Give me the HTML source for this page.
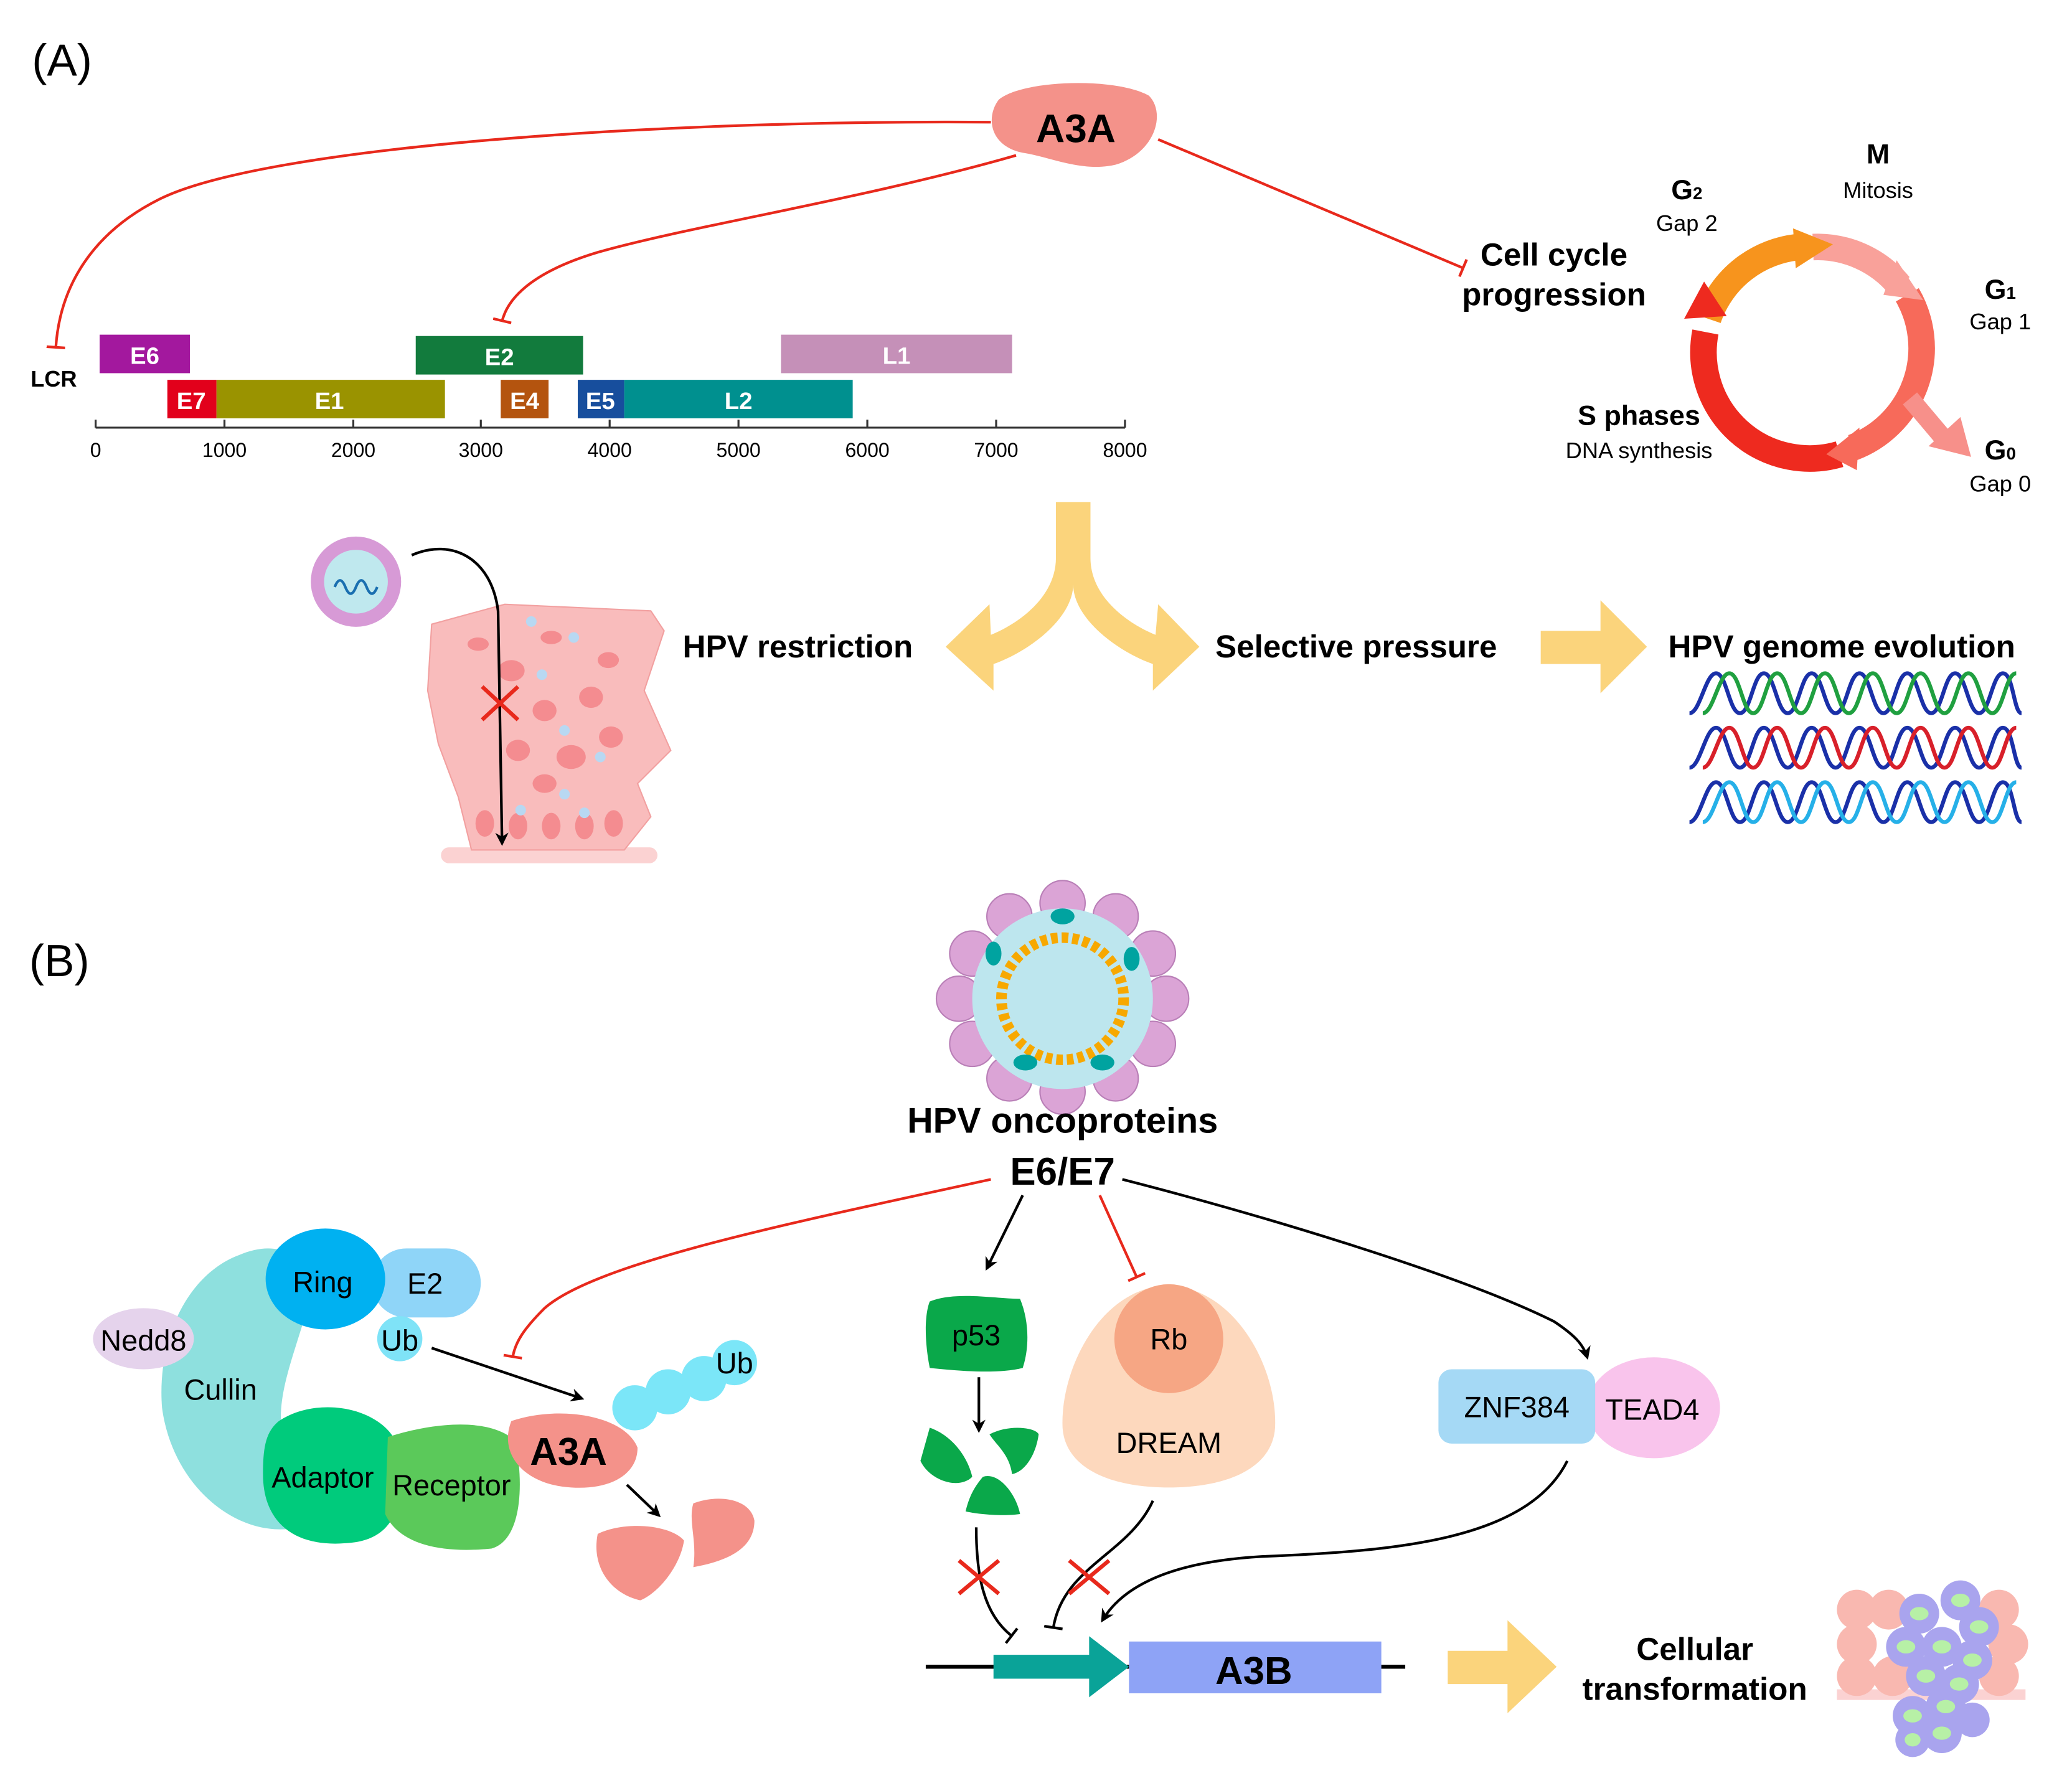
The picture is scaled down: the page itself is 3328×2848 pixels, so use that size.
<!DOCTYPE html>
<html><head><meta charset="utf-8"><style>
html,body{margin:0;padding:0;background:#fff;}
svg{display:block;}
text{font-family:"Liberation Sans",sans-serif;}
</style></head><body>
<svg width="3328" height="2848" viewBox="0 0 1560 1335" xmlns="http://www.w3.org/2000/svg">
<defs>
<marker id="ab" markerWidth="10" markerHeight="10" refX="8" refY="5" orient="auto" markerUnits="userSpaceOnUse"><path d="M0,0 L10,5 L0,10 L3,5 Z" fill="#000"/></marker>
<marker id="tr" markerWidth="4" markerHeight="14" refX="2" refY="7" orient="auto" markerUnits="userSpaceOnUse"><rect x="0.5" y="0" width="2" height="14" fill="#e8291c"/></marker>
<marker id="tb" markerWidth="4" markerHeight="14" refX="2" refY="7" orient="auto" markerUnits="userSpaceOnUse"><rect x="0.5" y="0" width="2" height="14" fill="#000"/></marker>
</defs>

<!-- (A) -->
<text x="24" y="57" font-size="34">(A)</text>
<path d="M752,75 C770,60 840,58 865,72 C878,85 870,115 840,124 C815,130 790,118 770,115 C745,110 742,88 752,75 Z" fill="#f4928a"/>
<text x="810" y="107" font-size="30" font-weight="bold" text-anchor="middle">A3A</text>

<path d="M746,92 C500,90 200,110 120,150 C70,175 45,215 42,262" fill="none" stroke="#e8291c" stroke-width="2" marker-end="url(#tr)"/>
<path d="M765,117 C650,150 520,170 450,190 C400,205 382,225 378,242" fill="none" stroke="#e8291c" stroke-width="2" marker-end="url(#tr)"/>
<path d="M872,105 L1102,202" fill="none" stroke="#e8291c" stroke-width="2" marker-end="url(#tr)"/>

<!-- genome -->
<g font-weight="bold" font-size="18" fill="#fff" text-anchor="middle">
<rect x="75" y="252" width="68" height="29" fill="#a3189e"/><text x="109" y="274">E6</text>
<rect x="313" y="253" width="126" height="29" fill="#127b3d"/><text x="376" y="275">E2</text>
<rect x="588" y="252" width="174" height="29" fill="#c590b8"/><text x="675" y="274">L1</text>
<rect x="126" y="286" width="37" height="29" fill="#e2001b"/><text x="144" y="308">E7</text>
<rect x="163" y="286" width="172" height="29" fill="#9a9300"/><text x="248" y="308">E1</text>
<rect x="377" y="286" width="36" height="29" fill="#b4540f"/><text x="395" y="308">E4</text>
<rect x="435" y="286" width="35" height="29" fill="#174e9d"/><text x="452" y="308">E5</text>
<rect x="470" y="286" width="172" height="29" fill="#00908f"/><text x="556" y="308">L2</text>
</g>
<text x="23" y="291" font-size="17" font-weight="bold">LCR</text>
<line x1="72" y1="322" x2="847" y2="322" stroke="#333" stroke-width="1.5"/>
<g stroke="#333" stroke-width="1.5">
<line x1="72" y1="316" x2="72" y2="322"/><line x1="169" y1="316" x2="169" y2="322"/><line x1="266" y1="316" x2="266" y2="322"/><line x1="362" y1="316" x2="362" y2="322"/><line x1="459" y1="316" x2="459" y2="322"/><line x1="556" y1="316" x2="556" y2="322"/><line x1="653" y1="316" x2="653" y2="322"/><line x1="750" y1="316" x2="750" y2="322"/><line x1="847" y1="316" x2="847" y2="322"/>
</g>
<g font-size="15" text-anchor="middle">
<text x="72" y="344">0</text><text x="169" y="344">1000</text><text x="266" y="344">2000</text><text x="362" y="344">3000</text><text x="459" y="344">4000</text><text x="556" y="344">5000</text><text x="653" y="344">6000</text><text x="750" y="344">7000</text><text x="847" y="344">8000</text>
</g>

<!-- cell cycle -->
<text x="1170" y="200" font-size="24" font-weight="bold" text-anchor="middle">Cell cycle</text>
<text x="1170" y="230" font-size="24" font-weight="bold" text-anchor="middle">progression</text>
<g fill="none" stroke-width="20">
<path d="M1286,240 A80,80 0 0 1 1355,186" stroke="#f7941d"/>
<path d="M1365,186 A80,80 0 0 1 1430,215" stroke="#f9a19a"/>
<path d="M1436,222 A80,80 0 0 1 1395,337" stroke="#f76a5a"/>
<path d="M1385,342 A80,80 0 0 1 1284,250" stroke="#ee2a1f"/>
</g>
<polygon points="1350,172 1380,184 1352,202" fill="#f7941d"/>
<polygon points="1428,196 1448,226 1418,222" fill="#f9a19a"/>
<polygon points="1400,322 1375,342 1398,354" fill="#f76a5a"/>
<polygon points="1268,240 1283,212 1300,238" fill="#ee2a1f"/>
<path d="M1438,300 L1465,332" stroke="#f7908a" stroke-width="14"/>
<polygon points="1452,336 1484,344 1476,314" fill="#f7908a"/>
<text x="1414" y="123" font-size="21" font-weight="bold" text-anchor="middle">M</text>
<text x="1414" y="149" font-size="17" text-anchor="middle">Mitosis</text>
<text x="1270" y="150" font-size="21" font-weight="bold" text-anchor="middle">G<tspan font-size="13">2</tspan></text>
<text x="1270" y="174" font-size="17" text-anchor="middle">Gap 2</text>
<text x="1506" y="225" font-size="21" font-weight="bold" text-anchor="middle">G<tspan font-size="13">1</tspan></text>
<text x="1506" y="248" font-size="17" text-anchor="middle">Gap 1</text>
<text x="1506" y="346" font-size="21" font-weight="bold" text-anchor="middle">G<tspan font-size="13">0</tspan></text>
<text x="1506" y="370" font-size="17" text-anchor="middle">Gap 0</text>
<text x="1234" y="320" font-size="21" font-weight="bold" text-anchor="middle">S phases</text>
<text x="1234" y="345" font-size="17" text-anchor="middle">DNA synthesis</text>

<!-- yellow arrows -->
<g fill="#fbd47c">
<path d="M795,378 L821,378 L821,420 C821,450 850,470 870,478 L872,455 L903,487 L868,520 L868,500 C840,490 808,465 808,440 C808,465 776,490 748,500 L748,520 L712,487 L745,455 L746,478 C766,470 795,450 795,420 Z"/>
<path d="M1160,475 L1205,475 L1205,452 L1240,487 L1205,522 L1205,500 L1160,500 Z"/>
<path d="M1090,1243 L1135,1243 L1135,1220 L1172,1255 L1135,1290 L1135,1268 L1090,1268 Z"/>
</g>
<text x="514" y="495" font-size="24" font-weight="bold">HPV restriction</text>
<text x="915" y="495" font-size="24" font-weight="bold">Selective pressure</text>
<text x="1256" y="495" font-size="24" font-weight="bold">HPV genome evolution</text>

<!-- DNA helices -->
<g fill="none" stroke-width="3">
<path d="M1272,537 C1280,537 1284,507 1292,507 C1300,507 1302,537 1310,537 C1318,537 1320,507 1328,507 C1336,507 1338,537 1346,537 C1354,537 1356,507 1364,507 C1372,507 1374,537 1382,537 C1390,537 1392,507 1400,507 C1408,507 1410,537 1418,537 C1426,537 1428,507 1436,507 C1444,507 1446,537 1454,537 C1462,537 1464,507 1472,507 C1480,507 1482,537 1490,537 C1498,537 1500,507 1508,507 C1516,507 1516,537 1522,537" stroke="#1a30a8"/>
<path d="M1282,537 C1290,537 1294,507 1302,507 C1310,507 1312,537 1320,537 C1328,537 1330,507 1338,507 C1346,507 1348,537 1356,537 C1364,537 1366,507 1374,507 C1382,507 1384,537 1392,537 C1400,537 1402,507 1410,507 C1418,507 1420,537 1428,537 C1436,537 1438,507 1446,507 C1454,507 1456,537 1464,537 C1472,537 1474,507 1482,507 C1490,507 1492,537 1500,537 C1508,537 1510,507 1518,507" stroke="#20a040"/>
<path d="M1272,578 C1280,578 1284,548 1292,548 C1300,548 1302,578 1310,578 C1318,578 1320,548 1328,548 C1336,548 1338,578 1346,578 C1354,578 1356,548 1364,548 C1372,548 1374,578 1382,578 C1390,578 1392,548 1400,548 C1408,548 1410,578 1418,578 C1426,578 1428,548 1436,548 C1444,548 1446,578 1454,578 C1462,578 1464,548 1472,548 C1480,548 1482,578 1490,578 C1498,578 1500,548 1508,548 C1516,548 1516,578 1522,578" stroke="#1a30a8"/>
<path d="M1282,578 C1290,578 1294,548 1302,548 C1310,548 1312,578 1320,578 C1328,578 1330,548 1338,548 C1346,548 1348,578 1356,578 C1364,578 1366,548 1374,548 C1382,548 1384,578 1392,578 C1400,578 1402,548 1410,548 C1418,548 1420,578 1428,578 C1436,578 1438,548 1446,548 C1454,548 1456,578 1464,578 C1472,578 1474,548 1482,548 C1490,548 1492,578 1500,578 C1508,578 1510,548 1518,548" stroke="#d8202a"/>
<path d="M1272,619 C1280,619 1284,589 1292,589 C1300,589 1302,619 1310,619 C1318,619 1320,589 1328,589 C1336,589 1338,619 1346,619 C1354,619 1356,589 1364,589 C1372,589 1374,619 1382,619 C1390,619 1392,589 1400,589 C1408,589 1410,619 1418,619 C1426,619 1428,589 1436,589 C1444,589 1446,619 1454,619 C1462,619 1464,589 1472,589 C1480,589 1482,619 1490,619 C1498,619 1500,589 1508,589 C1516,589 1516,619 1522,619" stroke="#1a30a8"/>
<path d="M1282,619 C1290,619 1294,589 1302,589 C1310,589 1312,619 1320,619 C1328,619 1330,589 1338,589 C1346,589 1348,619 1356,619 C1364,619 1366,589 1374,589 C1382,589 1384,619 1392,619 C1400,619 1402,589 1410,589 C1418,589 1420,619 1428,619 C1436,619 1438,589 1446,589 C1454,589 1456,619 1464,619 C1472,619 1474,589 1482,589 C1490,589 1492,619 1500,619 C1508,619 1510,589 1518,589" stroke="#26b0e8"/>
</g>

<!-- tissue -->
<rect x="332" y="638" width="163" height="12" rx="6" fill="#fbd2d2"/>
<path d="M325,470 L380,455 L490,460 L500,475 L485,520 L505,565 L480,590 L490,615 L470,640 L355,640 L345,600 L330,560 L322,520 Z" fill="#f9bcbc" stroke="#f2a0a0"/>
<g fill="#f48c90">
<ellipse cx="385" cy="505" rx="10" ry="8"/><ellipse cx="410" cy="535" rx="9" ry="8"/><ellipse cx="445" cy="525" rx="9" ry="8"/><ellipse cx="430" cy="570" rx="11" ry="9"/><ellipse cx="390" cy="565" rx="9" ry="8"/><ellipse cx="460" cy="555" rx="9" ry="8"/><ellipse cx="410" cy="590" rx="9" ry="7"/><ellipse cx="365" cy="620" rx="7" ry="10"/><ellipse cx="390" cy="622" rx="7" ry="10"/><ellipse cx="415" cy="622" rx="7" ry="10"/><ellipse cx="440" cy="622" rx="7" ry="10"/><ellipse cx="462" cy="620" rx="7" ry="10"/><ellipse cx="458" cy="497" rx="8" ry="6"/><ellipse cx="360" cy="485" rx="8" ry="5"/><ellipse cx="415" cy="480" rx="8" ry="5"/>
</g>
<g fill="#b8d8f2"><circle cx="400" cy="468" r="4"/><circle cx="432" cy="480" r="4"/><circle cx="408" cy="508" r="4"/><circle cx="425" cy="550" r="4"/><circle cx="452" cy="570" r="4"/><circle cx="425" cy="598" r="4"/><circle cx="392" cy="610" r="4"/><circle cx="440" cy="612" r="4"/></g>
<circle cx="268" cy="438" r="34" fill="#d79ad6"/>
<circle cx="268" cy="438" r="24" fill="#bfe8ee"/>
<path d="M252,442 q4,-10 8,0 q4,10 8,0 q4,-10 8,0 q4,10 8,0" fill="none" stroke="#1a6fb0" stroke-width="2"/>
<path d="M310,418 C340,405 370,420 375,460 L378,635" fill="none" stroke="#000" stroke-width="2" marker-end="url(#ab)"/>
<path d="M363,517 L390,542 M390,517 L363,542" stroke="#e8291c" stroke-width="3"/>

<!-- (B) -->
<text x="22" y="735" font-size="34">(B)</text>
<g fill="#dba4d6" stroke="#b97fb7" stroke-width="1">
<circle cx="800" cy="680" r="17"/><circle cx="840" cy="690" r="17"/><circle cx="868" cy="718" r="17"/><circle cx="878" cy="752" r="17"/><circle cx="868" cy="786" r="17"/><circle cx="840" cy="812" r="17"/><circle cx="800" cy="822" r="17"/><circle cx="760" cy="812" r="17"/><circle cx="732" cy="786" r="17"/><circle cx="722" cy="752" r="17"/><circle cx="732" cy="718" r="17"/><circle cx="760" cy="690" r="17"/>
</g>
<circle cx="800" cy="752" r="68" fill="#bde6ee"/>
<circle cx="800" cy="752" r="46" fill="none" stroke="#f7a800" stroke-width="8" stroke-dasharray="5,3"/>
<circle cx="800" cy="752" r="38" fill="#bde6ee"/>
<g fill="#00a3a0"><ellipse cx="800" cy="690" rx="9" ry="6"/><ellipse cx="748" cy="718" rx="6" ry="9"/><ellipse cx="852" cy="722" rx="6" ry="9"/><ellipse cx="772" cy="800" rx="9" ry="6"/><ellipse cx="830" cy="800" rx="9" ry="6"/></g>
<text x="800" y="853" font-size="27" font-weight="bold" text-anchor="middle">HPV oncoproteins</text>
<text x="800" y="892" font-size="29" font-weight="bold" text-anchor="middle">E6/E7</text>

<!-- left complex -->
<path d="M180,945 C215,930 240,950 230,990 C218,1030 205,1060 215,1090 C225,1120 240,1140 225,1150 C180,1160 130,1120 122,1060 C118,1010 140,960 180,945 Z" fill="#8ee0de"/>
<ellipse cx="108" cy="1008" rx="38" ry="23" fill="#e5d3ec"/>
<text x="108" y="1017" font-size="22" text-anchor="middle">Nedd8</text>
<text x="166" y="1054" font-size="22" text-anchor="middle">Cullin</text>
<rect x="280" y="940" width="82" height="52" rx="26" fill="#8fd5f8"/>
<text x="320" y="974" font-size="22" text-anchor="middle">E2</text>
<ellipse cx="245" cy="963" rx="45" ry="38" fill="#00b1f1"/>
<text x="243" y="973" font-size="22" text-anchor="middle">Ring</text>
<circle cx="301" cy="1008" r="17" fill="#7fe3f7"/>
<text x="301" y="1017" font-size="22" text-anchor="middle">Ub</text>
<path d="M210,1070 C240,1050 290,1060 300,1090 C305,1130 300,1160 260,1162 C220,1165 198,1145 198,1110 C198,1090 200,1078 210,1070 Z" fill="#00cb7c"/>
<path d="M292,1082 C330,1070 370,1068 388,1085 C395,1120 392,1160 370,1166 C330,1170 300,1162 290,1140 Z" fill="#5bc95a"/>
<text x="243" y="1120" font-size="22" text-anchor="middle">Adaptor</text>
<text x="340" y="1126" font-size="22" text-anchor="middle">Receptor</text>
<g fill="#7be6f8"><circle cx="478" cy="1060" r="17"/><circle cx="503" cy="1048" r="17"/><circle cx="530" cy="1038" r="17"/><circle cx="553" cy="1026" r="17"/></g>
<text x="553" y="1034" font-size="22" text-anchor="middle">Ub</text>
<path d="M385,1070 C420,1058 470,1065 480,1090 C480,1110 460,1122 430,1120 C395,1118 375,1095 385,1070 Z" fill="#f4928a"/>
<text x="428" y="1103" font-size="29" font-weight="bold" text-anchor="middle">A3A</text>
<path d="M450,1155 C470,1145 505,1148 515,1160 C512,1180 495,1200 482,1205 C460,1200 445,1180 450,1155 Z" fill="#f4928a"/>
<path d="M522,1132 C540,1125 565,1128 568,1145 C568,1165 550,1175 522,1180 C525,1160 518,1145 522,1132 Z" fill="#f4928a"/>
<path d="M325,1015 L438,1053" stroke="#000" stroke-width="2" marker-end="url(#ab)"/>
<path d="M472,1118 L496,1141" stroke="#000" stroke-width="2" marker-end="url(#ab)"/>
<path d="M746,888 C600,920 450,950 410,985 C395,1000 388,1010 386,1022" fill="none" stroke="#e8291c" stroke-width="2" marker-end="url(#tr)"/>

<!-- p53 / Rb -->
<path d="M770,900 L743,955" stroke="#000" stroke-width="2" marker-end="url(#ab)"/>
<path d="M828,900 L856,962" stroke="#e8291c" stroke-width="2" marker-end="url(#tr)"/>
<path d="M700,980 C720,972 750,978 768,978 C775,995 775,1015 770,1030 C750,1035 720,1032 700,1030 C696,1010 696,990 700,980 Z" fill="#0aa84a"/>
<text x="735" y="1013" font-size="22" text-anchor="middle">p53</text>
<path d="M737,1037 L737,1077" stroke="#000" stroke-width="2" marker-end="url(#ab)"/>
<path d="M700,1075 C715,1080 728,1095 732,1112 C722,1122 700,1115 693,1100 Z" fill="#0aa84a"/>
<path d="M745,1080 C760,1072 780,1075 782,1080 C780,1095 772,1108 762,1110 C760,1095 750,1088 745,1080 Z" fill="#0aa84a"/>
<path d="M740,1112 C752,1108 765,1125 768,1140 C755,1142 735,1140 727,1138 C730,1125 735,1118 740,1112 Z" fill="#0aa84a"/>
<path d="M880,968 C930,970 962,1030 960,1075 C958,1105 925,1120 880,1120 C835,1120 802,1105 800,1075 C798,1030 830,968 880,968 Z" fill="#fdd8bd"/>
<circle cx="880" cy="1008" r="41" fill="#f6a684"/>
<text x="880" y="1016" font-size="22" text-anchor="middle">Rb</text>
<text x="880" y="1094" font-size="22" text-anchor="middle">DREAM</text>

<!-- ZNF/TEAD -->
<path d="M845,888 C950,915 1100,960 1170,995 C1185,1005 1192,1012 1195,1022" fill="none" stroke="#000" stroke-width="2" marker-end="url(#ab)"/>
<ellipse cx="1245" cy="1060" rx="50" ry="38" fill="#f9c4ec"/>
<rect x="1083" y="1031" width="118" height="56" rx="10" fill="#a5d9f5"/>
<text x="1142" y="1067" font-size="22" text-anchor="middle">ZNF384</text>
<text x="1244" y="1069" font-size="22" text-anchor="middle">TEAD4</text>

<!-- to A3B -->
<path d="M735,1150 C735,1185 740,1215 762,1232" fill="none" stroke="#000" stroke-width="2" marker-end="url(#tb)"/>
<path d="M868,1130 C850,1170 800,1180 793,1226" fill="none" stroke="#000" stroke-width="2" marker-end="url(#tb)"/>
<path d="M1180,1100 C1150,1160 1050,1168 950,1172 C880,1176 845,1195 830,1220" fill="none" stroke="#000" stroke-width="2" marker-end="url(#ab)"/>
<path d="M722,1175 L752,1200 M752,1175 L722,1200" stroke="#e8291c" stroke-width="3"/>
<path d="M805,1175 L835,1200 M835,1175 L805,1200" stroke="#e8291c" stroke-width="3"/>
<line x1="697" y1="1255" x2="1058" y2="1255" stroke="#000" stroke-width="3"/>
<rect x="850" y="1236" width="190" height="39" fill="#8ea3f6"/>
<text x="944" y="1268" font-size="29" font-weight="bold" text-anchor="middle">A3B</text>
<path d="M748,1246 L820,1246 L820,1232 L850,1255 L820,1278 L820,1264 L748,1264 Z" fill="#0aa398"/>

<text x="1276" y="1250" font-size="24" font-weight="bold" text-anchor="middle">Cellular</text>
<text x="1276" y="1280" font-size="24" font-weight="bold" text-anchor="middle">transformation</text>
<rect x="1383" y="1272" width="142" height="8" fill="#fbd2d2"/>
<g fill="#f9b8b0"><circle cx="1398" cy="1212" r="15"/><circle cx="1422" cy="1212" r="15"/><circle cx="1398" cy="1238" r="15"/><circle cx="1398" cy="1262" r="15"/><circle cx="1425" cy="1262" r="15"/><circle cx="1505" cy="1212" r="15"/><circle cx="1512" cy="1238" r="15"/><circle cx="1505" cy="1262" r="15"/></g>
<g fill="#a9a4ee"><circle cx="1445" cy="1215" r="15"/><circle cx="1476" cy="1205" r="15"/><circle cx="1490" cy="1225" r="15"/><circle cx="1435" cy="1240" r="15"/><circle cx="1462" cy="1240" r="15"/><circle cx="1485" cy="1250" r="15"/><circle cx="1450" cy="1262" r="15"/><circle cx="1475" cy="1268" r="15"/><circle cx="1465" cy="1285" r="15"/><circle cx="1440" cy="1292" r="15"/><circle cx="1462" cy="1305" r="15"/><circle cx="1440" cy="1310" r="13"/><circle cx="1485" cy="1295" r="13"/></g>
<g fill="#b7f0a6"><ellipse cx="1445" cy="1215" rx="7" ry="5"/><ellipse cx="1476" cy="1205" rx="7" ry="5"/><ellipse cx="1490" cy="1225" rx="7" ry="5"/><ellipse cx="1435" cy="1240" rx="7" ry="5"/><ellipse cx="1462" cy="1240" rx="7" ry="5"/><ellipse cx="1485" cy="1250" rx="7" ry="5"/><ellipse cx="1450" cy="1262" rx="7" ry="5"/><ellipse cx="1475" cy="1268" rx="7" ry="5"/><ellipse cx="1465" cy="1285" rx="7" ry="5"/><ellipse cx="1440" cy="1292" rx="7" ry="5"/><ellipse cx="1462" cy="1305" rx="7" ry="5"/><ellipse cx="1440" cy="1310" rx="6" ry="5"/></g>
</svg>
</body></html>
